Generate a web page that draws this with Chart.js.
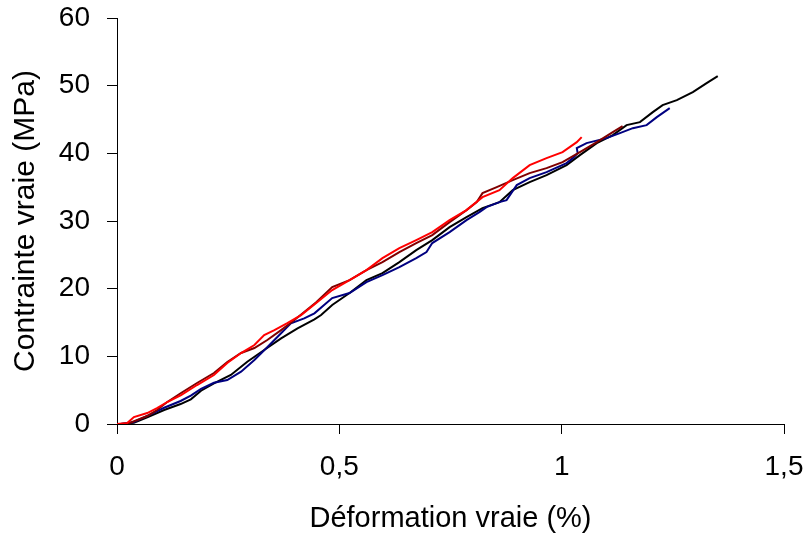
<!DOCTYPE html>
<html>
<head>
<meta charset="utf-8">
<script src="https://cdn.jsdelivr.net/npm/chart.js@4/dist/chart.umd.min.js"></script>
<style>
  html, body { margin: 0; padding: 0; background: #ffffff; }
  #wrap { width: 807px; height: 536px; position: relative; }
</style>
</head>
<body>
<div id="wrap"><canvas id="c" width="807" height="536"></canvas></div>
<script>
// ---- Data ----
const xTickLabels = ['0', '0,5', '1', '1,5'];
const yTickLabels = ['0', '10', '20', '30', '40', '50', '60'];
const xTitle = 'Déformation vraie (%)';
const yTitle = 'Contrainte vraie (MPa)';

const strainBlack = [0, 0.008, 0.038, 0.068, 0.106, 0.143, 0.166, 0.189, 0.218, 0.256, 0.293, 0.331, 0.369, 0.406, 0.444, 0.459, 0.484, 0.523, 0.561, 0.597, 0.635, 0.673, 0.709, 0.748, 0.786, 0.822, 0.860, 0.890, 0.928, 0.966, 1.011, 1.041, 1.079, 1.115, 1.146, 1.176, 1.205, 1.227, 1.259, 1.295, 1.326, 1.351];
const stressBlack = [0, 0, 0.19, 0.99, 2.07, 2.95, 3.65, 4.92, 6.01, 7.24, 9.20, 10.93, 12.66, 14.14, 15.47, 16.10, 17.58, 19.35, 21.27, 22.30, 23.93, 25.70, 27.18, 29.10, 30.58, 31.91, 32.79, 34.56, 35.75, 36.78, 38.26, 39.73, 41.51, 42.69, 44.17, 44.61, 46.09, 47.12, 47.86, 49.04, 50.37, 51.40];

const strainNavy = [0, 0.008, 0.038, 0.068, 0.106, 0.143, 0.166, 0.189, 0.218, 0.248, 0.279, 0.309, 0.339, 0.369, 0.391, 0.421, 0.444, 0.471, 0.484, 0.523, 0.561, 0.597, 0.635, 0.673, 0.696, 0.709, 0.748, 0.786, 0.815, 0.831, 0.860, 0.876, 0.899, 0.928, 0.966, 1.011, 1.025, 1.036, 1.034, 1.056, 1.101, 1.131, 1.160, 1.191, 1.214, 1.243];
const stressNavy = [0, 0, 0.3, 1.2, 2.4, 3.4, 4.2, 5.2, 6.1, 6.5, 7.73, 9.45, 11.42, 13.40, 14.87, 15.61, 16.35, 17.87, 18.61, 19.35, 20.97, 22.01, 23.19, 24.52, 25.41, 26.74, 28.36, 30.13, 31.31, 32.05, 32.79, 33.09, 35.30, 36.34, 37.22, 38.55, 39.29, 40.03, 40.77, 41.51, 42.25, 42.98, 43.72, 44.17, 45.35, 46.68];

const strainRed = [0, 0.023, 0.038, 0.068, 0.090, 0.113, 0.144, 0.180, 0.218, 0.248, 0.279, 0.309, 0.331, 0.354, 0.383, 0.414, 0.448, 0.484, 0.523, 0.561, 0.597, 0.635, 0.673, 0.709, 0.748, 0.786, 0.822, 0.860, 0.890, 0.928, 0.966, 1.002, 1.034, 1.045];
const stressRed = [0, 0.15, 1.03, 1.62, 2.36, 3.25, 4.28, 5.76, 7.24, 9.01, 10.49, 11.67, 13.15, 13.88, 14.92, 16.10, 17.87, 19.79, 21.27, 22.75, 24.52, 26.00, 27.18, 28.36, 30.13, 31.61, 33.53, 34.56, 36.34, 38.26, 39.29, 40.18, 41.65, 42.39];

const strainMaroon = [0, 0.023, 0.068, 0.090, 0.113, 0.144, 0.180, 0.218, 0.248, 0.279, 0.309, 0.338, 0.369, 0.399, 0.448, 0.484, 0.523, 0.561, 0.597, 0.635, 0.673, 0.709, 0.748, 0.786, 0.809, 0.822, 0.854, 0.890, 0.928, 0.966, 1.002, 1.041, 1.079, 1.115, 1.137];
const stressMaroon = [0, 0, 1.18, 2.07, 3.25, 4.58, 6.06, 7.53, 9.16, 10.49, 11.23, 12.41, 13.88, 15.36, 18.0, 20.24, 21.27, 22.75, 23.93, 25.41, 26.74, 27.92, 29.84, 31.61, 32.79, 34.12, 35.01, 36.04, 37.08, 37.81, 38.70, 40.18, 41.65, 43.13, 44.02];

// ---- Build ----
function pts(xs, ys) { return xs.map((x, i) => ({ x: x, y: ys[i] })); }
function ds(xs, ys, color) {
  return { data: pts(xs, ys), borderColor: color, backgroundColor: color, borderWidth: 2,
           showLine: true, pointRadius: 0, pointHoverRadius: 0, tension: 0, fill: false };
}

const FONT = "'Liberation Sans', Arial, sans-serif";

new Chart(document.getElementById('c'), {
  type: 'scatter',
  data: {
    datasets: [
      ds(strainRed, stressRed, '#ff0000'),
      ds(strainMaroon, stressMaroon, '#800000'),
      ds(strainNavy, stressNavy, '#000080'),
      ds(strainBlack, stressBlack, '#000000')
    ]
  },
  options: {
    responsive: false,
    animation: false,
    devicePixelRatio: 1,
    layout: { padding: { left: 0, top: 18, right: 23, bottom: 0 } },
    plugins: { legend: { display: false }, tooltip: { enabled: false } },
    scales: {
      x: {
        type: 'linear', min: 0, max: 1.5,
        afterFit: s => { s.height = 112; s.paddingLeft = 0; s.paddingRight = 0; },
        border: { display: true, color: '#000000', width: 1 },
        grid: { drawOnChartArea: false, drawTicks: true, tickLength: 10, color: '#000000' },
        ticks: {
          stepSize: 0.5, autoSkip: false, maxRotation: 0, padding: 16, color: '#000000',
          font: { family: FONT, size: 28 },
          callback: (v, i) => xTickLabels[i]
        },
        title: { display: true, text: xTitle, color: '#000000', padding: { top: 0, bottom: 0 },
                 font: { family: FONT, size: 29 } }
      },
      y: {
        type: 'linear', min: 0, max: 60,
        afterFit: s => { s.width = 117; s.paddingTop = 0; s.paddingBottom = 0; },
        border: { display: true, color: '#000000', width: 1 },
        grid: { drawOnChartArea: false, drawTicks: true, tickLength: 10, color: '#000000' },
        ticks: {
          stepSize: 10, autoSkip: false, padding: 17, color: '#000000',
          font: { family: FONT, size: 28 },
          callback: (v, i) => yTickLabels[i]
        },
        title: { display: true, text: yTitle, color: '#000000', padding: { top: 8, bottom: 0 },
                 font: { family: FONT, size: 30 } }
      }
    }
  }
});
</script>
</body>
</html>
